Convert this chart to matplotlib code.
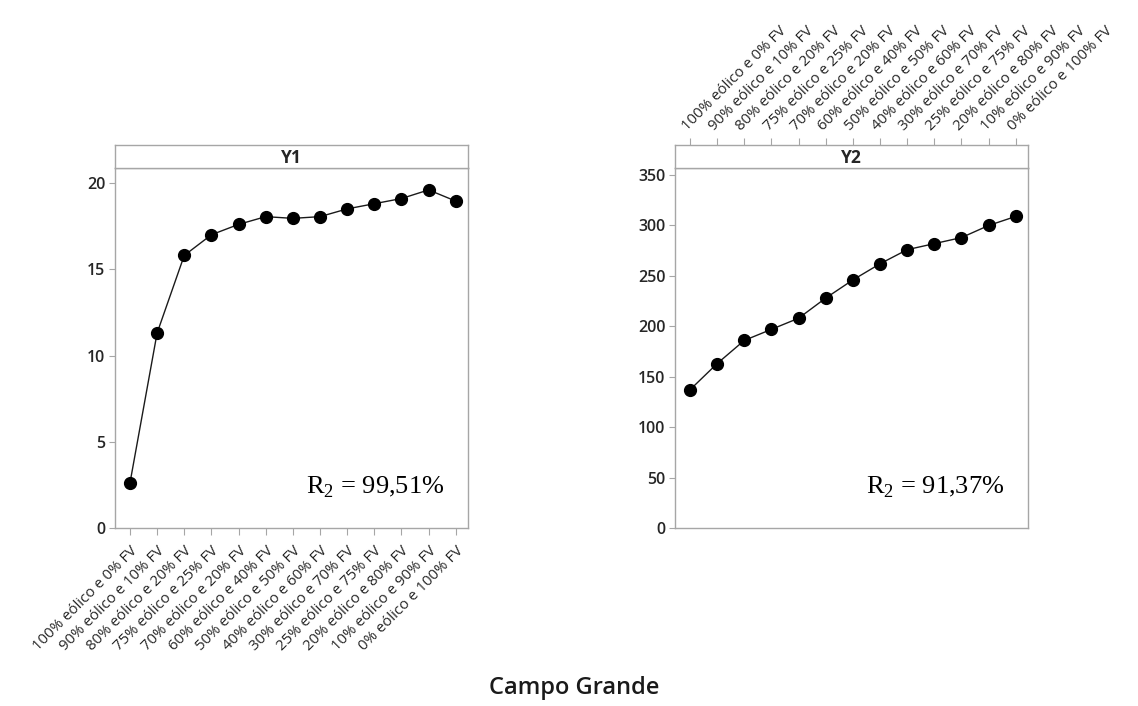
import matplotlib
matplotlib.use("Agg")
import matplotlib.pyplot as plt

plt.rcParams['font.family'] = ['Open Sans', 'DejaVu Sans']
plt.rcParams['mathtext.fontset'] = 'custom'
plt.rcParams['mathtext.rm'] = 'Liberation Serif'

categories = [
    "100% eólico e 0% FV", "90% eólico e 10% FV", "80% eólico e 20% FV",
    "75% eólico e 25% FV", "70% eólico e 20% FV", "60% eólico e 40% FV",
    "50% eólico e 50% FV", "40% eólico e 60% FV", "30% eólico e 70% FV",
    "25% eólico e 75% FV", "20% eólico e 80% FV", "10% eólico e 90% FV",
    "0% eólico e 100% FV",
]
y1_values = [2.6, 11.3, 15.8, 17.0, 17.6, 18.05, 17.95, 18.05, 18.5, 18.8, 19.1, 19.6, 18.95]
y2_values = [137, 163, 186, 197, 208, 228, 246, 262, 276, 282, 288, 300, 309]
y1_ticks = [0, 5, 10, 15, 20]
y2_ticks = [0, 50, 100, 150, 200, 250, 300, 350]

W, H = 1138, 706
fig = plt.figure(figsize=(W / 100, H / 100), dpi=100)

frame_col = '#a6a6a6'
text_col = '#262626'


def px_box(x0, y0, x1, y1):
    return [x0 / W, 1 - y1 / H, (x1 - x0) / W, (y1 - y0) / H]


def panel(x0, x1, values, yticks, ymax, title, r2, labels_top):
    ax = fig.add_axes(px_box(x0, 168, x1, 528))
    strip = fig.add_axes(px_box(x0, 145, x1, 168))
    xs = list(range(len(categories)))
    ax.plot(xs, values, color='#1a1a1a', lw=1.0, marker='o', ms=8.5,
            mfc='black', mec='black', zorder=3)
    ax.set_xlim(-0.55, len(categories) - 1 + 0.45)
    ax.set_ylim(0, ymax)
    ax.set_yticks(yticks)
    ax.set_yticklabels([str(t) for t in yticks], fontsize=11.5,
                       color=text_col, fontweight='semibold')
    ax.tick_params(axis='y', direction='out', length=4, width=0.8,
                   color=frame_col, pad=3)
    for s in ax.spines.values():
        s.set_color(frame_col)
        s.set_linewidth(1.0)

    strip.set_xlim(ax.get_xlim())
    strip.set_ylim(0, 1)
    strip.set_yticks([])
    for s in strip.spines.values():
        s.set_color(frame_col)
        s.set_linewidth(1.0)
    strip.text(0.5, 0.45, title, transform=strip.transAxes, ha='center',
               va='center', fontsize=12.5, fontweight='bold', color=text_col)

    if labels_top:
        ax.set_xticks([])
        strip.set_xticks(xs)
        strip.xaxis.set_ticks_position('top')
        strip.set_xticklabels(categories, rotation=45, ha='left',
                              va='bottom', rotation_mode='anchor',
                              fontsize=10.8, color=text_col)
        strip.tick_params(axis='x', direction='out', length=5, width=0.8,
                          color=frame_col, pad=3)
    else:
        strip.set_xticks([])
        ax.set_xticks(xs)
        ax.set_xticklabels(categories, rotation=45, ha='right',
                           va='top', rotation_mode='anchor',
                           fontsize=10.8, color=text_col)
        ax.tick_params(axis='x', direction='out', length=5, width=0.8,
                       color=frame_col, pad=6)

    ax.text(0.932, 0.114, r"R$_\mathrm{2}$ = " + r2, transform=ax.transAxes,
            ha='right', va='center', fontsize=19, color='black',
            family='Liberation Serif')
    return ax


panel(115, 468, y1_values, y1_ticks, 20.87, "Y1", "99,51%", labels_top=False)
panel(675, 1028, y2_values, y2_ticks, 357, "Y2", "91,37%", labels_top=True)

fig.text(574 / W, 1 - 688 / H, "Campo Grande", ha='center', va='center',
         fontsize=17, fontweight='semibold', color='#1a1a1a')

fig.savefig("out.png", dpi=100)
